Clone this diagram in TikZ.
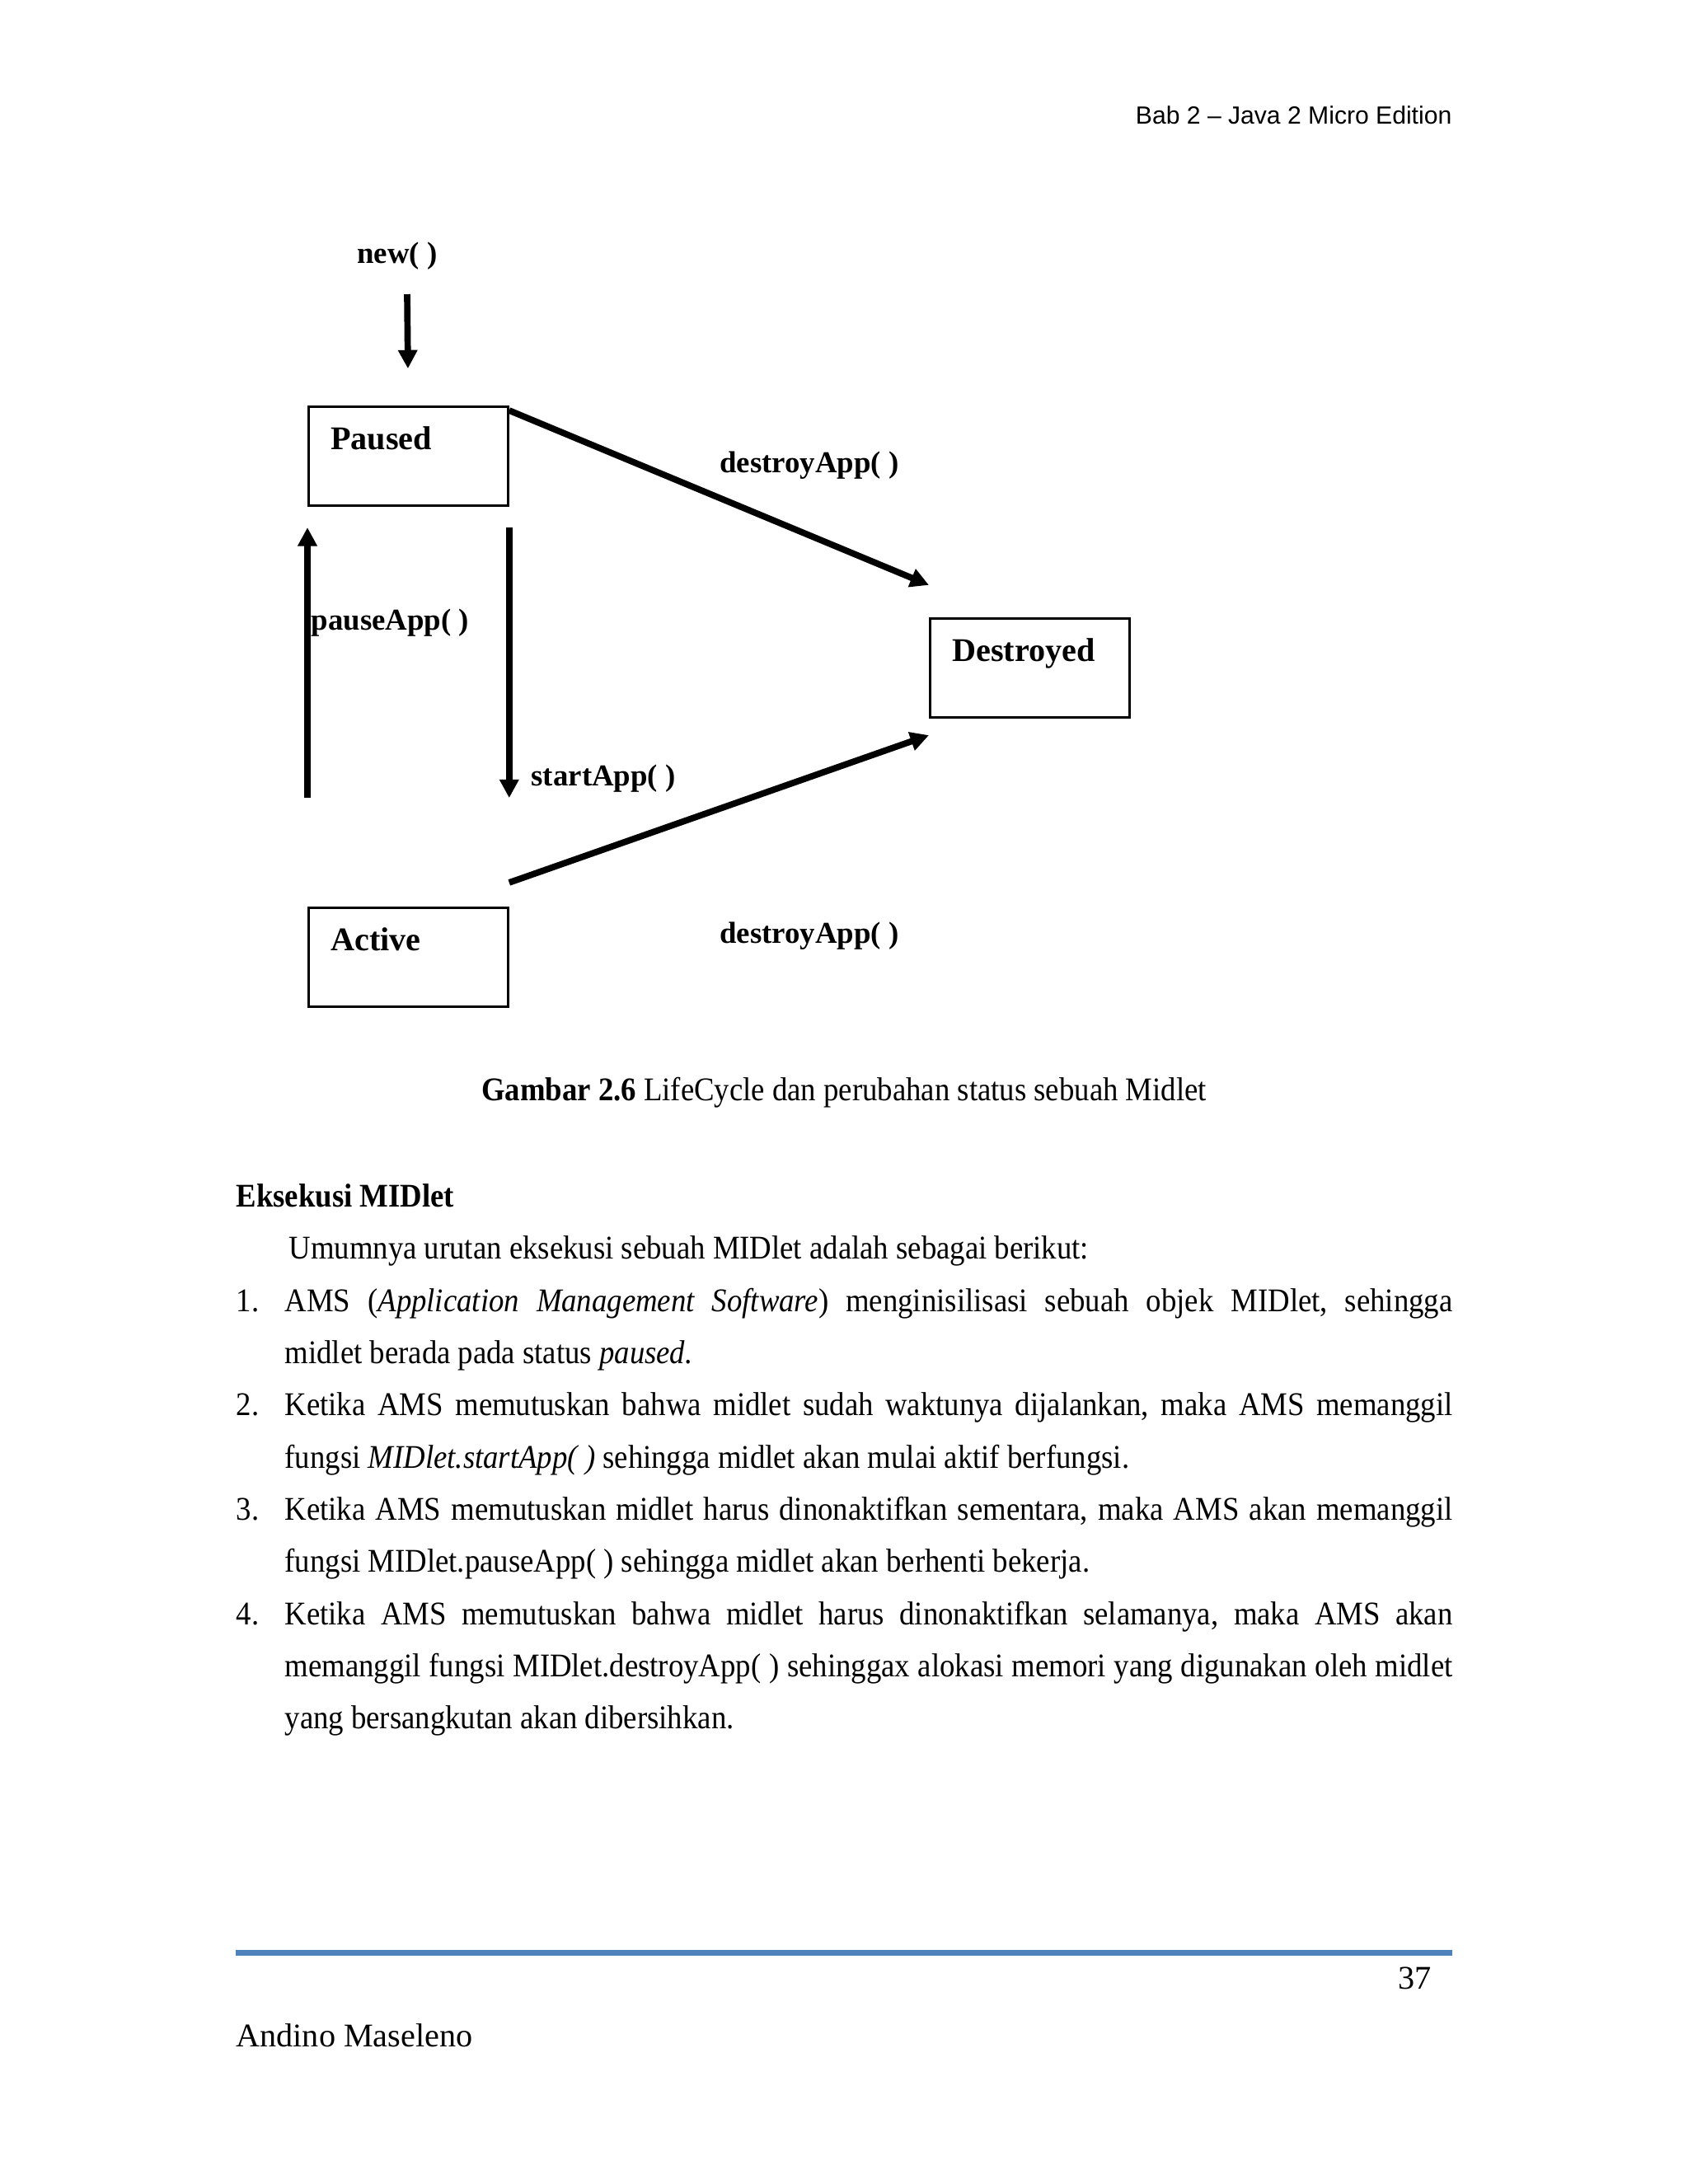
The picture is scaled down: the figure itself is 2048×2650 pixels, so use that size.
\documentclass[tikz,border=0pt]{standalone}
\usepackage{fontspec}
\setmainfont{Liberation Serif}
\newfontfamily\headfont{Liberation Sans}
\newfontfamily\bodyfont{Liberation Serif}[FakeStretch=0.915]
\usetikzlibrary{arrows.meta}
\definecolor{rulebar}{HTML}{4F81BD}
\newcommand{\fullline}[1]{\hbox to 423.4pt{#1}}
\frenchspacing

\begin{document}
\begin{tikzpicture}[x=0.29883pt,y=-0.29883pt,>={Triangle[length=6.7pt,width=6.7pt]},
  state/.style={draw,line width=0.85pt,anchor=north west,text width=56.3pt,inner xsep=8pt,inner ysep=0pt,
    text height=15.5pt,text depth=20.4pt,align=left,font=\fontsize{12}{14}\selectfont\bfseries},
  call/.style={inner sep=0pt,font=\fontsize{11}{13}\selectfont\bfseries},
  flow/.style={->,line width=2.3pt},
  plain/.style={anchor=base west,inner sep=0pt,font=\fontsize{12}{14}\selectfont},
  txt/.style={plain,font=\bodyfont\fontsize{12}{14}\selectfont}]
  \useasboundingbox (0,0) rectangle (2048,2650);

  \node[anchor=base east,inner sep=0pt,font=\headfont\fontsize{9}{11}\selectfont] (header) at (1762,150) {Bab 2 – Java 2 Micro Edition};

  % lifecycle
  \node[call] (newlbl) at (482,311) {new( )};
  \coordinate (newtop) at (494,357);
  \node[state] (paused) at (373,492) {Paused};
  \node[state] (destroyed) at (1127,749) {Destroyed};
  \node[state] (active) at (373,1100) {Active};
  \draw[flow,shorten >=13.4pt] (newtop) -- (paused.north);
  \draw[flow,shorten <=39.4pt,shorten >=7.5pt] (active.north west) -- (paused.south west);
  \draw[flow,shorten <=7.5pt,shorten >=39.4pt] (paused.south east) -- (active.north east);
  \draw[flow] ([yshift=-1.8pt]paused.north east) -- ([yshift=11.7pt]destroyed.north west);
  \draw[flow] ([yshift=8.7pt]active.north east) -- ([yshift=-6pt]destroyed.south west);
  \node[call] (desttop) at (982,565) {destroyApp( )};
  \node[call] (destbot) at (982,1136) {destroyApp( )};
  \node[call,anchor=west] (pauselbl) at (377,756) {pauseApp( )};
  \node[call,anchor=west] (startlbl) at (644,945) {startApp( )};

  \node[txt,anchor=base] (caption) at (1024,1335) {\textbf{Gambar 2.6} LifeCycle dan perubahan status sebuah Midlet};

  % body text
  \node[txt,font=\bodyfont\fontsize{12}{14}\selectfont\bfseries] (heading) at (286,1464) {Eksekusi MIDlet};
  \node[txt] (intro) at (350,1527) {Umumnya urutan eksekusi sebuah MIDlet adalah sebagai berikut:};
  \foreach \n/\y in {1/1591,2/1717,3/1844,4/1971}
    \node[txt] (num\n) at (286,\y) {\n.};
  \node[txt] (line1) at (345,1591) {\fullline{AMS (\textit{Application Management Software}) menginisilisasi sebuah objek MIDlet, sehingga}};
  \node[txt] (line2) at (345,1654) {midlet berada pada status \textit{paused.}};
  \node[txt] (line3) at (345,1717) {\fullline{Ketika AMS memutuskan bahwa midlet sudah waktunya dijalankan, maka AMS memanggil}};
  \node[txt] (line4) at (345,1781) {fungsi \textit{MIDlet.startApp( )} sehingga midlet akan mulai aktif berfungsi.};
  \node[txt] (line5) at (345,1844) {\fullline{Ketika AMS memutuskan midlet harus dinonaktifkan sementara, maka AMS akan memanggil}};
  \node[txt] (line6) at (345,1907) {fungsi MIDlet.pauseApp( ) sehingga midlet akan berhenti bekerja.};
  \node[txt] (line7) at (345,1971) {\fullline{Ketika AMS memutuskan bahwa midlet harus dinonaktifkan selamanya, maka AMS akan}};
  \node[txt] (line8) at (345,2034) {\fullline{memanggil fungsi MIDlet.destroyApp( ) sehinggax alokasi memori yang digunakan oleh midlet}};
  \node[txt] (line9) at (345,2097) {yang bersangkutan akan dibersihkan.};

  % footer
  \draw[rulebar,line width=2.1pt] (286,2369) -- (1762,2369);
  \node[plain,anchor=base east] (pagenum) at (1737,2413) {37};
  \node[plain] (author) at (286,2483) {Andino Maseleno};
\end{tikzpicture}
\end{document}
